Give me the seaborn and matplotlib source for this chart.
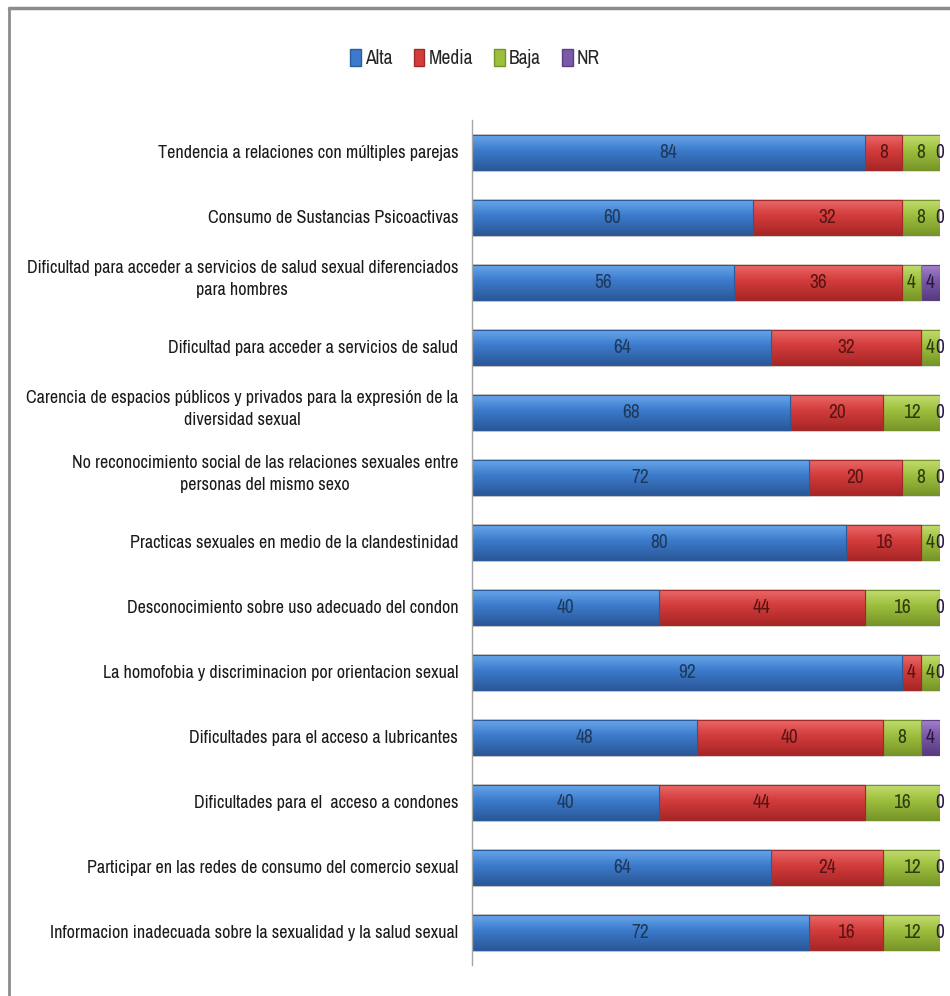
import matplotlib
matplotlib.use("Agg")
import matplotlib.pyplot as plt
import seaborn as sns
import numpy as np
import pandas as pd
from matplotlib.patches import Patch
from matplotlib.lines import Line2D
from matplotlib import font_manager
from matplotlib.colors import to_rgba

categories = [
    "Tendencia a relaciones con múltiples parejas",
    "Consumo de Sustancias Psicoactivas",
    "Dificultad para acceder a servicios de salud sexual diferenciados\npara hombres",
    "Dificultad para acceder a servicios de salud",
    "Carencia de espacios públicos y privados para la expresión de la\ndiversidad sexual",
    "No reconocimiento social de las relaciones sexuales entre\npersonas del mismo sexo",
    "Practicas sexuales en medio de la clandestinidad",
    "Desconocimiento sobre uso adecuado del condon",
    "La homofobia y discriminacion por orientacion sexual",
    "Dificultades para el acceso a lubricantes",
    "Dificultades para el  acceso a condones",
    "Participar en las redes de consumo del comercio sexual",
    "Informacion inadecuada sobre la sexualidad y la salud sexual",
]
series_names = ["Alta", "Media", "Baja", "NR"]
alta = [84, 60, 56, 64, 68, 72, 80, 40, 92, 48, 40, 64, 72]
media = [8, 32, 36, 32, 20, 20, 16, 44, 4, 40, 44, 24, 16]
baja = [8, 8, 4, 4, 12, 8, 4, 16, 4, 8, 16, 12, 12]
nr = [0, 0, 4, 0, 0, 0, 0, 0, 0, 4, 0, 0, 0]

colors = ["#3C7BCC", "#D33C3C", "#9DBF3E", "#7C58A9"]
top_colors = ["#6AA8EC", "#EC6A6A", "#C4DE70", "#A584CF"]
bot_colors = ["#2A5898", "#A82626", "#789629", "#573A82"]
edge_colors = ["#2B5B98", "#A02A2A", "#76922B", "#5B3F80"]
text_colors = ["#1E3A5C", "#5A1414", "#2E3B0E", "#2A1A40"]

avail = {f.name for f in font_manager.fontManager.ttflist}
narrow = sorted(n for n in avail if ("Narrow" in n or "Condensed" in n))
fam = narrow[0] if narrow else "Liberation Sans"

sns.set_style("white")
plt.rcParams["font.family"] = [fam, "DejaVu Sans"]

values = np.array([alta, media, baja, nr], dtype=float)
cum = np.cumsum(values, axis=0)

fig = plt.figure(figsize=(9.5, 9.96), dpi=100)
ax = fig.add_axes([0.497, 0.031, 0.492, 0.8485])

layer_patches = []
for i in range(3, -1, -1):
    n_before = len(ax.patches)
    df = pd.DataFrame({"cat": categories, "val": cum[i]})
    sns.barplot(data=df, y="cat", x="val", orient="h", color=colors[i],
                width=0.54, ax=ax, saturation=1, edgecolor=edge_colors[i],
                linewidth=0.8)
    layer_patches.append((i, list(ax.patches[n_before:])))

ax.set_xlim(0, 100)
ax.set_ylim(12.5, -0.5)

# glossy vertical gradient on each bar, clipped to the bar shape
for order, (i, patches) in enumerate(layer_patches):
    t = np.array(to_rgba(top_colors[i]))
    m = np.array(to_rgba(colors[i]))
    b = np.array(to_rgba(bot_colors[i]))
    s = np.linspace(0, 1, 64)[:, None]
    grad = np.where(s < 0.45, t + (m - t) * (s / 0.45), m + (b - m) * ((s - 0.45) / 0.55))
    grad = grad[:, None, :]
    for p in patches:
        x0, y0 = p.get_x(), p.get_y()
        w, h = p.get_width(), p.get_height()
        if w <= 0:
            continue
        ylo, yhi = min(y0, y0 + h), max(y0, y0 + h)
        p.set_zorder(1 + order * 0.1)
        im = ax.imshow(grad, extent=(x0, x0 + w, yhi, ylo), origin="upper",
                       aspect="auto", interpolation="bilinear",
                       zorder=1 + order * 0.1 + 0.01)
        im.set_clip_path(p)
        edge = plt.Rectangle((x0, ylo), w, yhi - ylo, fill=False,
                             edgecolor=edge_colors[i], linewidth=0.8,
                             zorder=1 + order * 0.1 + 0.02)
        ax.add_patch(edge)

ax.set_xlim(0, 100)
ax.set_ylim(12.5, -0.5)

fs_lab = 13.0 if narrow else 11
for j in range(len(categories)):
    for i in range(4):
        v = values[i, j]
        center = cum[i, j] - v / 2.0
        ax.text(center, j, f"{int(v)}", ha="center", va="center",
                fontsize=14, color=text_colors[i], zorder=5)

ax.set_xlabel("")
ax.set_ylabel("")
ax.set_xticks([])
ax.set_yticks(range(len(categories)))
ax.set_yticklabels([])
ax.tick_params(axis="y", length=0)
for j, c in enumerate(categories):
    ax.text(-0.03, j - (0.05 if "\n" in c else 0.0), c,
            transform=ax.get_yaxis_transform(), ha="right",
            va="center", multialignment="center", fontsize=fs_lab,
            color="#1A1A1A", linespacing=1.45)

for s in ["top", "right", "bottom"]:
    ax.spines[s].set_visible(False)
ax.spines["left"].set_color("#A6A6A6")
ax.spines["left"].set_linewidth(1.0)

handles = [Patch(facecolor=colors[i], edgecolor=edge_colors[i], label=series_names[i]) for i in range(4)]
fig.legend(handles=handles, loc="center", bbox_to_anchor=(0.5, 0.941), ncol=4,
           frameon=False, fontsize=14, handlelength=0.55, handleheight=0.9,
           handletextpad=0.2, columnspacing=1.1)

fig.add_artist(Line2D([9 / 950, 1.0], [1 - 8 / 996, 1 - 8 / 996], color="#8C8C8C", lw=2.5,
                      transform=fig.transFigure))
fig.add_artist(Line2D([9 / 950, 9 / 950], [0.0, 1 - 8 / 996], color="#8C8C8C", lw=2.0,
                      transform=fig.transFigure))

fig.savefig("out.png", dpi=100, facecolor="white")
